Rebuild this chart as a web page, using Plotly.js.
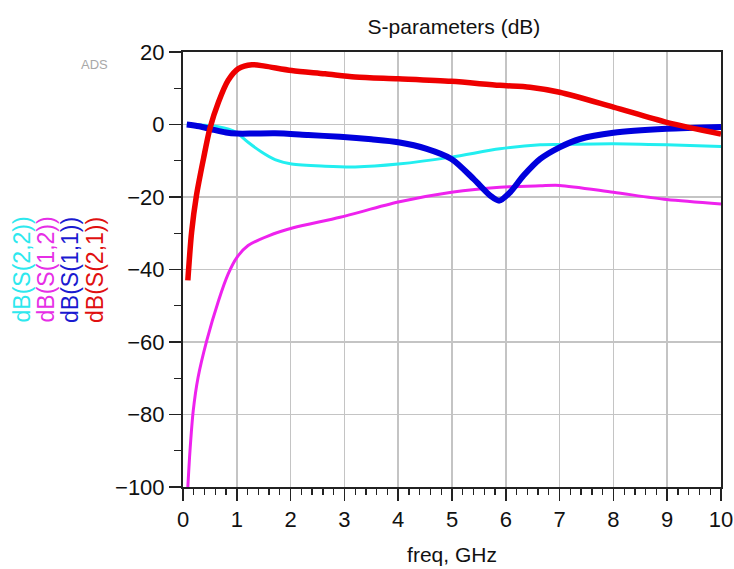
<!DOCTYPE html>
<html>
<head>
<meta charset="utf-8">
<script src="https://cdn.plot.ly/plotly-3.0.1.min.js"></script>
<style>html,body{margin:0;padding:0;background:#fff;}#chart{width:734px;height:569px;}</style>
</head>
<body>
<div id="chart"></div>
<script>
// S21 (red)
const freqS21 = [0.09, 0.16, 0.25, 0.38, 0.5, 0.66, 0.84, 1.03, 1.28, 1.52, 2.02, 2.64, 3.2, 4.0, 4.99, 5.89, 6.45, 7.0, 8.0, 8.99, 10.0];
const dbS21   = [-43, -29.7, -19.6, -9.5, -1.1, 6.2, 12.2, 15.4, 16.5, 16.1, 14.9, 14.0, 13.1, 12.6, 11.9, 10.8, 10.3, 8.9, 4.8, 0.6, -2.6];
// S11 (blue)
const freqS11 = [0.07, 0.3, 0.55, 0.8, 1.0, 1.3, 1.71, 2.33, 2.92, 3.5, 4.0, 4.53, 4.99, 5.4, 5.71, 5.88, 6.08, 6.33, 6.64, 7.0, 7.38, 8.0, 8.99, 10.0];
const dbS11   = [0, -0.5, -1.4, -2.2, -2.5, -2.5, -2.4, -2.9, -3.4, -4.1, -4.9, -6.7, -9.5, -15, -19.6, -21, -18.7, -14.1, -9.5, -6.3, -4.0, -2.3, -1.2, -0.7];
// S22 (cyan)
const freqS22 = [0.07, 0.4, 0.65, 0.85, 1.0, 1.21, 1.46, 1.71, 2.02, 2.64, 3.2, 4.0, 4.99, 5.89, 6.64, 7.0, 8.0, 8.99, 10.0];
const dbS22   = [0, -0.2, -0.6, -1.3, -2.3, -4.9, -7.6, -9.7, -10.9, -11.5, -11.7, -10.9, -9.0, -6.7, -5.6, -5.5, -5.3, -5.6, -6.1];
// S12 (magenta)
const freqS12 = [0.09, 0.13, 0.19, 0.28, 0.44, 0.66, 0.84, 1.0, 1.21, 1.59, 2.05, 2.92, 4.0, 4.99, 5.89, 6.64, 7.0, 8.0, 8.99, 10.0];
const dbS12   = [-100, -90, -79, -69.8, -59.7, -48.6, -41.2, -36.7, -33.4, -30.7, -28.5, -25.6, -21.4, -18.7, -17.3, -16.9, -16.8, -18.7, -20.7, -21.9];

const yTitles = ["dB(S(2,2))", "dB(S(1,2))", "dB(S(1,1))", "dB(S(2,1))"];
const yTitleColors = ["#2ee8ee", "#e62ee6", "#1a1ad0", "#e01010"];

const FONT = "Liberation Sans, Arial, sans-serif";

const traces = [
  {x: freqS22, y: dbS22, mode: "lines", line: {color: "#22eef0", width: 3, shape: "spline", smoothing: 0.8}},
  {x: freqS12, y: dbS12, mode: "lines", line: {color: "#ee22ee", width: 3, shape: "spline", smoothing: 0.8}},
  {x: freqS11, y: dbS11, mode: "lines", line: {color: "#0000dd", width: 6, shape: "spline", smoothing: 0.8}},
  {x: freqS21, y: dbS21, mode: "lines", line: {color: "#ee0000", width: 5.5, shape: "spline", smoothing: 0.8}}
];

const yShifts = [21.5, 45.5, 70, 95];
const annotations = yTitles.map((t, i) => ({
  text: t, xref: "paper", yref: "paper", x: 0, y: 0.499,
  xshift: yShifts[i] - 183, xanchor: "center", yanchor: "middle",
  textangle: -90, showarrow: false,
  font: {family: FONT, size: 23, color: yTitleColors[i]}
}));
annotations.push({
  text: "ADS", xref: "paper", yref: "paper", x: 0, y: 1,
  xshift: -89, yshift: -12, xanchor: "center", yanchor: "middle",
  showarrow: false, font: {family: FONT, size: 13, color: "#a8a8a8"}
});

const layout = {
  width: 734, height: 569,
  margin: {l: 183, r: 13, t: 52, b: 82},
  paper_bgcolor: "#ffffff", plot_bgcolor: "#ffffff",
  showlegend: false,
  font: {family: FONT, color: "#000"},
  title: {text: "S-parameters (dB)", x: 0.6185, xanchor: "center", xref: "container",
          y: 0.953, yanchor: "middle", font: {family: FONT, size: 21, color: "#111"}},
  xaxis: {
    range: [0, 10], dtick: 1, tick0: 0,
    showgrid: true, gridcolor: "#c4c4c4", gridwidth: 1.5, zeroline: false,
    showline: true, linecolor: "#222", linewidth: 2, mirror: true,
    ticks: "outside", ticklen: 12, tickwidth: 1.5, tickcolor: "#222",
    minor: {dtick: 0.2, ticks: "outside", ticklen: 6, tickwidth: 1.3, tickcolor: "#222", showgrid: false},
    tickfont: {family: FONT, size: 22, color: "#111"},
    title: {text: "freq, GHz", standoff: 16, font: {family: FONT, size: 21, color: "#111"}}
  },
  yaxis: {
    range: [-100, 20], dtick: 20, tick0: 0,
    showgrid: true, gridcolor: "#c4c4c4", gridwidth: 1.5, zeroline: false,
    showline: true, linecolor: "#222", linewidth: 2, mirror: true,
    ticks: "outside", ticklen: 12, tickwidth: 1.5, tickcolor: "#222",
    minor: {dtick: 10, ticks: "outside", ticklen: 7, tickwidth: 1.3, tickcolor: "#222", showgrid: false},
    tickfont: {family: FONT, size: 22, color: "#111"}
  },
  annotations: annotations
};

Plotly.newPlot("chart", traces, layout, {staticPlot: true, displayModeBar: false});
</script>
</body>
</html>
